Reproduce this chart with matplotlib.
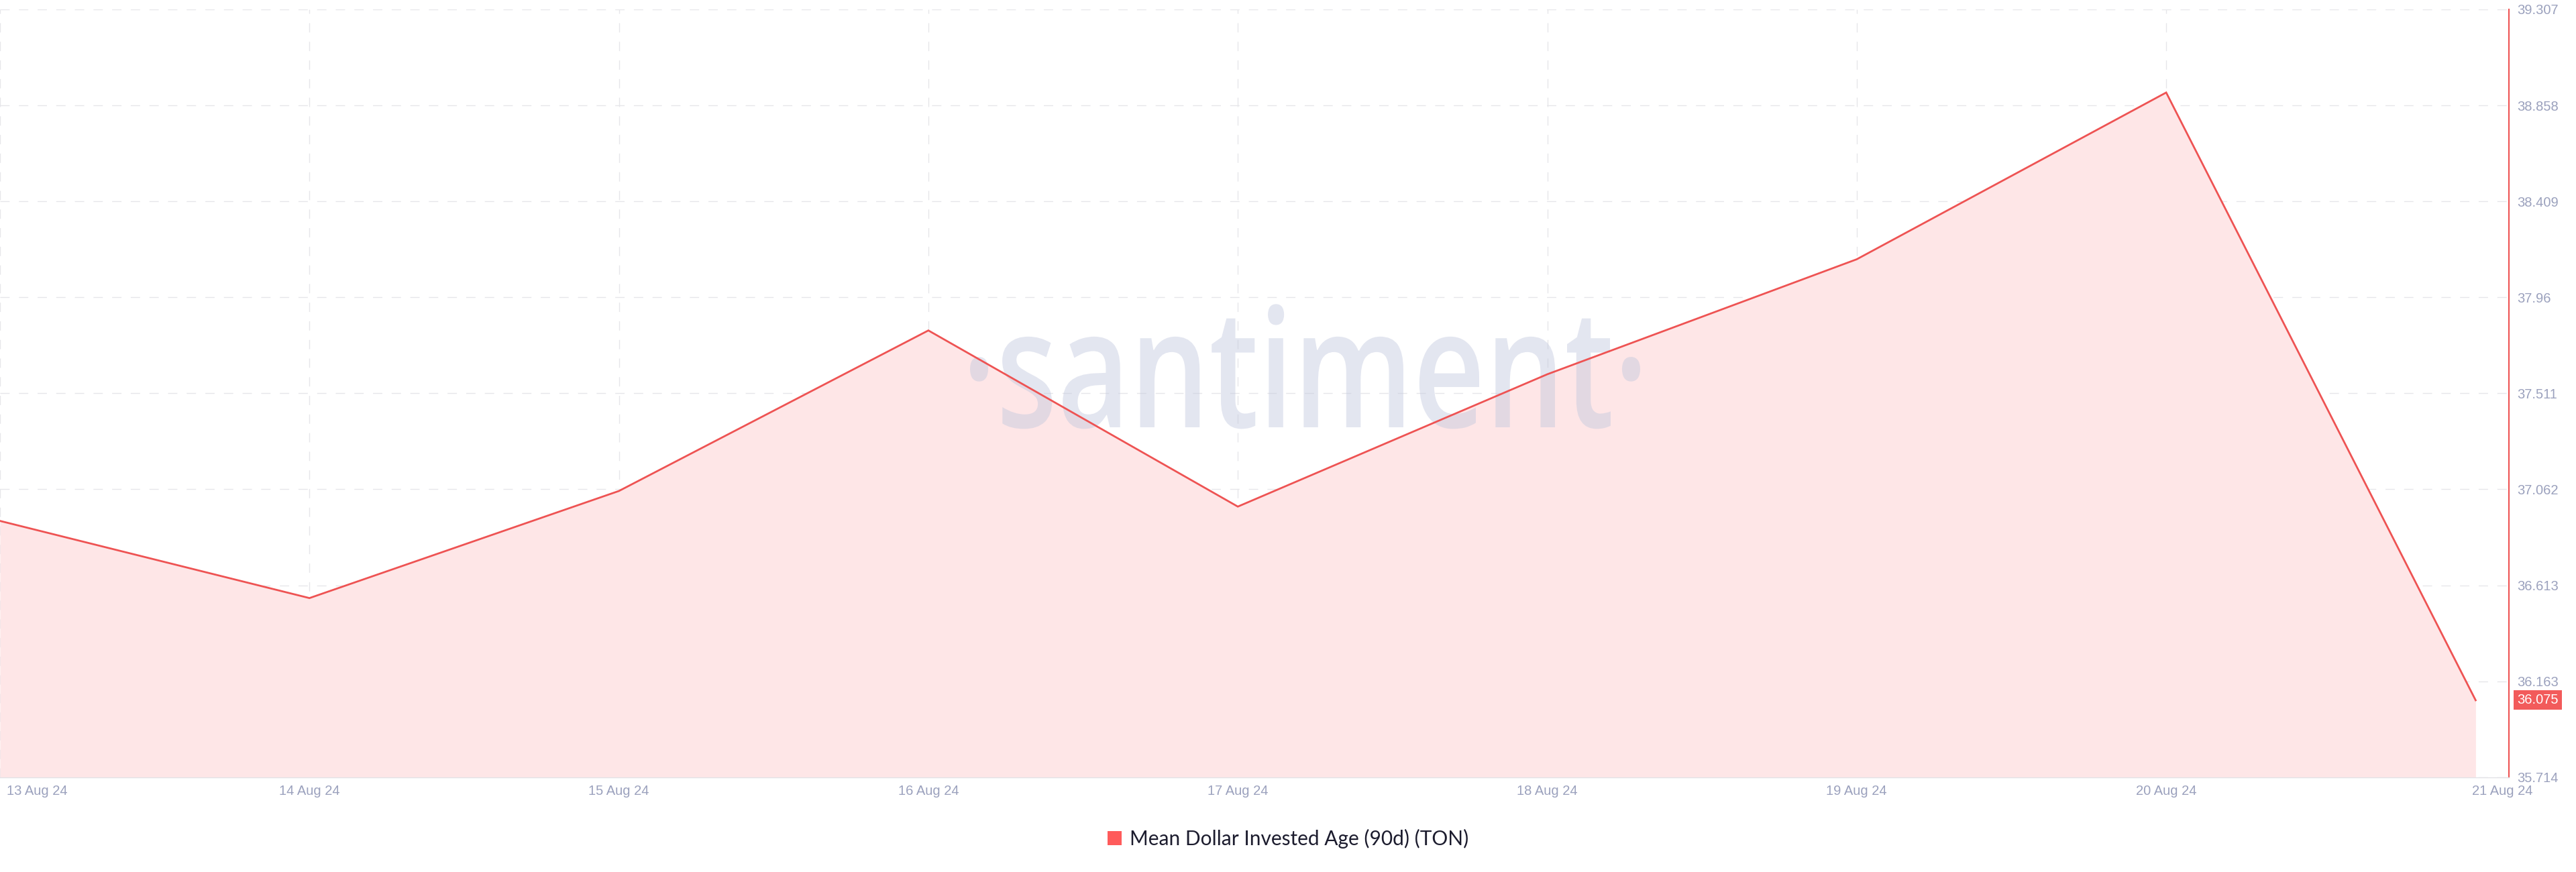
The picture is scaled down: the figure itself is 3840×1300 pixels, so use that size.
import matplotlib
matplotlib.use("Agg")
import matplotlib.pyplot as plt
from matplotlib.patches import PathPatch, Patch
from matplotlib.textpath import TextPath
from matplotlib.font_manager import FontProperties
from matplotlib.transforms import Affine2D, IdentityTransform, ScaledTranslation

# ---- data ----
dates = ["13 Aug 24", "14 Aug 24", "15 Aug 24", "16 Aug 24", "17 Aug 24",
         "18 Aug 24", "19 Aug 24", "20 Aug 24", "21 Aug 24"]
values = [36.914, 36.553, 37.054, 37.805, 36.981, 37.600, 38.138, 38.918, 36.075]
y_ticks = [35.714, 36.163, 36.613, 37.062, 37.511, 37.96, 38.409, 38.858, 39.307]
y_tick_labels = ["35.714", "36.163", "36.613", "37.062", "37.511", "37.96",
                 "38.409", "38.858", "39.307"]
series_name = "Mean Dollar Invested Age (90d) (TON)"
last_label = "36.075"

W, H = 3840, 1300
fig = plt.figure(figsize=(W / 100, H / 100), dpi=100)
fig.patch.set_facecolor("white")

ax_left, ax_right = 0 / W, 3740 / W
ax_top, ax_bottom = 1 - 14 / H, 1 - 1159 / H
ax = fig.add_axes([ax_left, ax_bottom, ax_right - ax_left, ax_top - ax_bottom])

x = list(range(len(values)))
line_color = "#ee5353"
ax.fill_between(x, values, y_ticks[0], color="#fee6e7", zorder=1, linewidth=0)
ax.plot(x, values, color=line_color, linewidth=2.0, zorder=4, solid_joinstyle="miter")

ax.set_xlim(0, 3740 / 461.3)
ax.set_ylim(y_ticks[0], y_ticks[-1])

# grid
ax.set_xticks(x)
ax.set_xticklabels(dates)
ax.set_yticks(y_ticks)
ax.set_yticklabels(y_tick_labels)
ax.grid(True, color="#e6e6ea", linewidth=1.0, linestyle=(0, (10, 10)), zorder=0)
ax.set_axisbelow(True)
ax.xaxis.get_gridlines()[-1].set_visible(False)

# spines
for s in ["left", "top"]:
    ax.spines[s].set_visible(False)
ax.spines["right"].set_color("#ee5353")
ax.spines["right"].set_linewidth(1.5)
ax.spines["bottom"].set_color("#e2e2e6")
ax.spines["bottom"].set_linewidth(1.0)

tick_color = "#9ba1bd"
ax.yaxis.tick_right()
ax.tick_params(axis="y", length=0, pad=8.5, labelsize=14.5, labelcolor=tick_color)
ax.tick_params(axis="x", length=0, pad=8, labelsize=14.5, labelcolor=tick_color)
for lab in ax.get_xticklabels() + ax.get_yticklabels():
    lab.set_fontfamily("Liberation Sans")

xl = ax.get_xticklabels()
xl[0].set_horizontalalignment("left")
xl[0].set_transform(xl[0].get_transform() + ScaledTranslation(10 / 100, 0, fig.dpi_scale_trans))
xl[-1].set_transform(xl[-1].get_transform() + ScaledTranslation(40 / 100, 0, fig.dpi_scale_trans))

# last value badge
ax.annotate(last_label, xy=(1, values[-1]), xycoords=ax.get_yaxis_transform(),
            xytext=(12 / 100 * 72, 0), textcoords="offset points",
            ha="left", va="center", fontsize=14.5, color="white",
            fontfamily="Liberation Sans", annotation_clip=False,
            bbox=dict(boxstyle="square,pad=0.25", fc="#f25b5b", ec="none"), zorder=6)

# watermark
fp = FontProperties(family="Open Sans", weight="semibold")
tp = TextPath((0, 0), "\u00b7santiment\u00b7", size=100, prop=fp)
ext = tp.get_extents()
target_x0, target_w = 1446, 999
xheight_px = 134
sy = xheight_px / 54.5
sx = target_w / ext.width
baseline = H - 637
tr = Affine2D().translate(-ext.x0, 0).scale(sx, sy).translate(target_x0, baseline)
wm = PathPatch(tr.transform_path(tp), transform=IdentityTransform(),
               facecolor="#c2c8de", edgecolor="none", alpha=0.45, zorder=3, clip_on=False)
ax.add_artist(wm)

# legend
handle = Patch(facecolor="#ff5b5b", edgecolor="none")
leg = fig.legend([handle], [series_name], loc="center", bbox_to_anchor=(0.5, 1 - 1250 / H),
                 frameon=False, handlelength=0.7, handleheight=0.7, handletextpad=0.4,
                 prop=FontProperties(family="Lato", size=21.5))
for t in leg.get_texts():
    t.set_color("#1c1c2e")

fig.savefig("out.png", dpi=100, facecolor="white")
